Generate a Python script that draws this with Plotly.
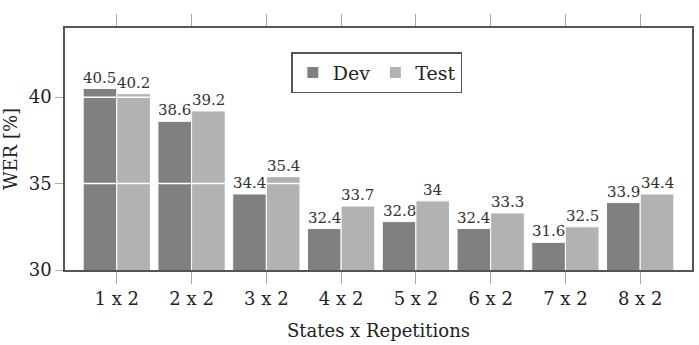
import plotly.graph_objects as go

categories = ["1 x 2", "2 x 2", "3 x 2", "4 x 2", "5 x 2", "6 x 2", "7 x 2", "8 x 2"]
dev = [40.5, 38.6, 34.4, 32.4, 32.8, 32.4, 31.6, 33.9]
test = [40.2, 39.2, 35.4, 33.7, 34.0, 33.3, 32.5, 34.4]
y_ticks = [30, 35, 40]
grid_vals = [35, 40]
y_range = [30, 44]

FONT = "DejaVu Serif"
TXT = "#222222"
SIZE = 18
xi = list(range(len(categories)))
BARGAP = 0.1
bar_w = (1 - BARGAP) / 2

fig = go.Figure()
series = [("Dev", dev, "#808080", -bar_w / 2), ("Test", test, "#b2b2b2", bar_w / 2)]
for name, vals, color, off in series:
    fig.add_trace(go.Bar(
        x=xi, y=vals, name=name,
        marker=dict(color=color, line=dict(color="white", width=1)),
    ))
    for i, v in zip(xi, vals):
        fig.add_annotation(x=i + off, y=v, xref="x", yref="y", text=f"{v:g}",
                           showarrow=False, yanchor="bottom", yshift=0,
                           font=dict(family=FONT, size=15, color="#333333"))

# invisible trace carrying the right-hand inside ticks
fig.add_trace(go.Scatter(x=[xi[0]], y=[y_range[0]], yaxis="y2", mode="markers",
                         marker=dict(opacity=0), showlegend=False, hoverinfo="skip"))

for g in grid_vals:
    fig.add_shape(type="line", xref="paper", x0=0, x1=1, yref="y", y0=g, y1=g,
                  line=dict(color="white", width=1.5), layer="above")

fig.update_layout(
    width=699, height=345,
    margin=dict(l=65, r=5, t=28, b=75),
    paper_bgcolor="white", plot_bgcolor="white",
    barmode="group", bargap=BARGAP, bargroupgap=0,
    font=dict(family=FONT, size=SIZE, color=TXT),
    showlegend=True,
    legend=dict(orientation="h", x=0.361, y=0.9, xanchor="left", yanchor="top",
                bordercolor="#555555", borderwidth=1.5, bgcolor="white",
                font=dict(family=FONT, size=19, color=TXT),
                itemwidth=30, tracegroupgap=0),
    xaxis=dict(
        tickmode="array", tickvals=xi, ticktext=categories,
        range=[-0.693, 7.693],
        showline=True, linecolor="#555555", linewidth=1.5, mirror="allticks",
        ticks="outside", ticklen=12, tickwidth=1.2, tickcolor="#aaaaaa",
        showgrid=False, zeroline=False,
        tickfont=dict(family=FONT, size=SIZE, color=TXT),
        title=dict(text="States x Repetitions", font=dict(family=FONT, size=SIZE, color=TXT), standoff=16),
    ),
    yaxis=dict(
        range=y_range, tickmode="array", tickvals=y_ticks,
        showline=True, linecolor="#555555", linewidth=1.5, mirror=True,
        ticks="outside", ticklen=8, tickwidth=1.2, tickcolor="#aaaaaa",
        showgrid=False, zeroline=False,
        tickfont=dict(family=FONT, size=SIZE, color=TXT),
        title=dict(text="WER [%]", font=dict(family=FONT, size=SIZE, color=TXT), standoff=8),
    ),
    yaxis2=dict(
        range=y_range, tickmode="array", tickvals=y_ticks, overlaying="y", side="right",
        ticks="inside", ticklen=11, tickwidth=1.2, tickcolor="#aaaaaa",
        showticklabels=False, showgrid=False, zeroline=False, showline=False,
    ),
)

fig.write_html("out.html")
